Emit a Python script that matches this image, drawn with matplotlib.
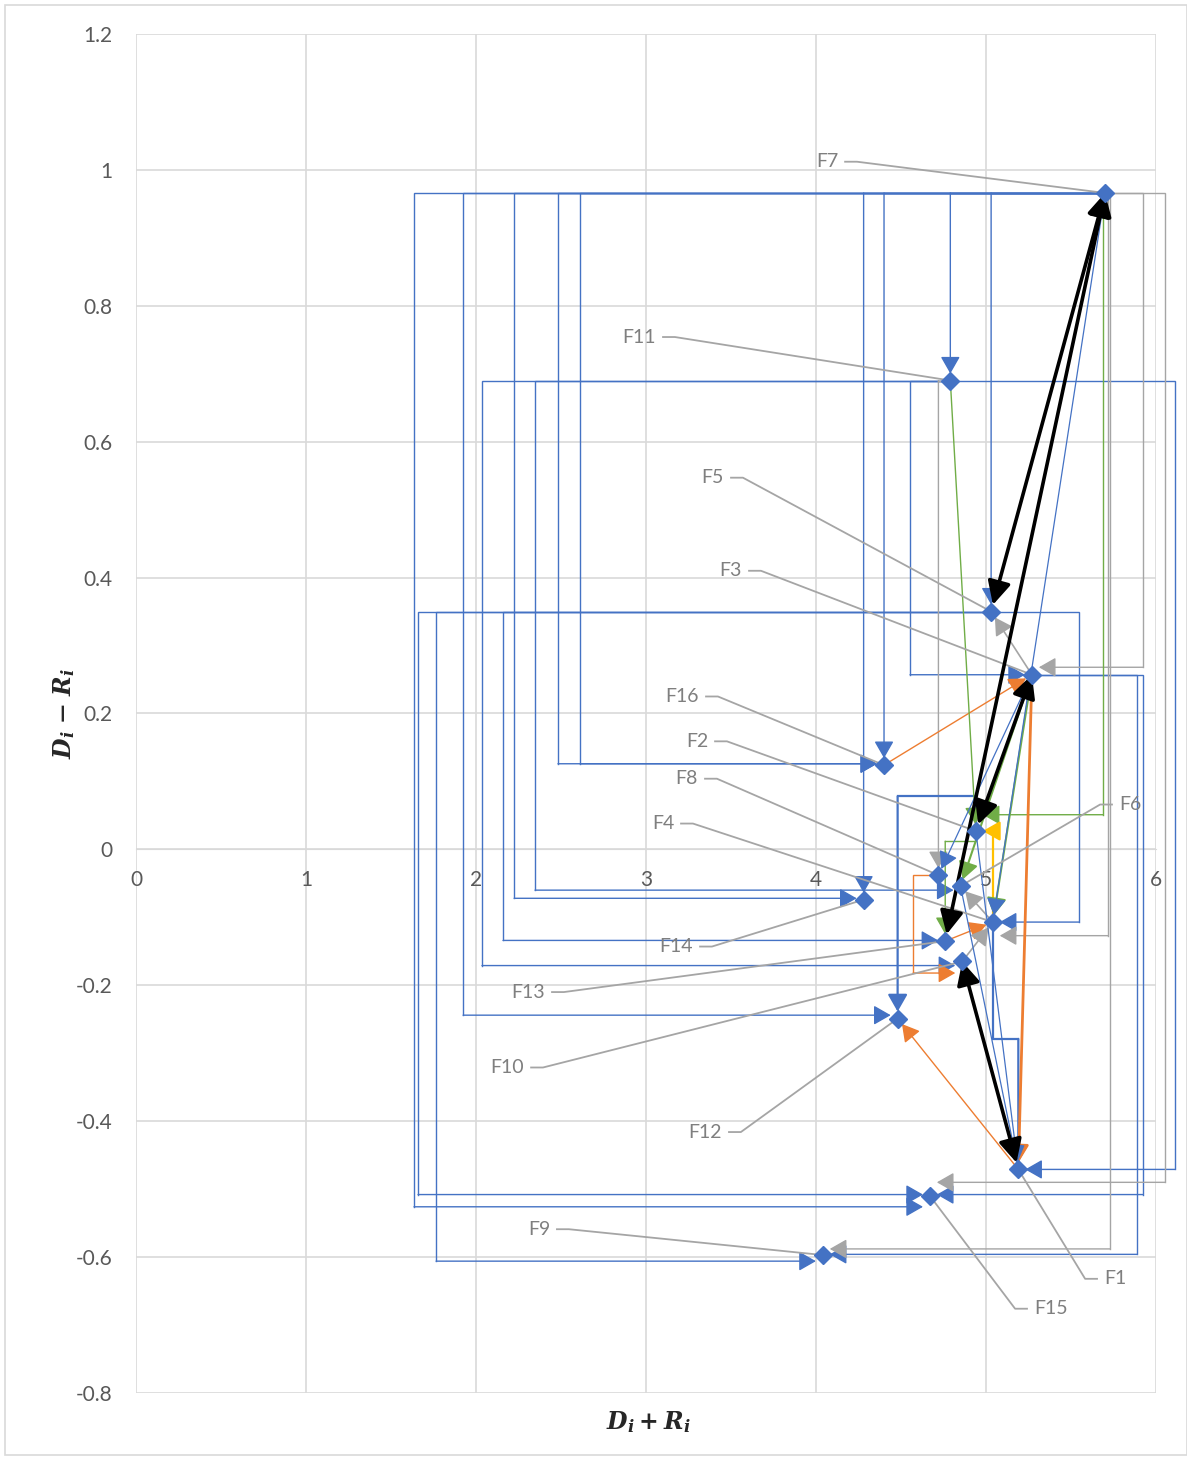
import matplotlib
matplotlib.use('Agg')
import matplotlib.pyplot as plt
from matplotlib.patches import Rectangle

plt.rcParams['font.family'] = ['Lato', 'DejaVu Sans']
plt.rcParams['mathtext.fontset'] = 'custom'
plt.rcParams['mathtext.it'] = 'DejaVu Serif:italic:bold'
plt.rcParams['mathtext.rm'] = 'DejaVu Serif:bold'

BLUE = '#4472C4'
ORANGE = '#ED7D31'
GRAY = '#A5A5A5'
YELLOW = '#FFC000'
GREEN = '#70AD47'

factors = ['F1', 'F2', 'F3', 'F4', 'F5', 'F6', 'F7', 'F8',
           'F9', 'F10', 'F11', 'F12', 'F13', 'F14', 'F15', 'F16']
d_plus_r = [5.19, 4.94, 5.27, 5.04, 5.03, 4.85, 5.70, 4.72,
            4.04, 4.86, 4.79, 4.48, 4.76, 4.28, 4.67, 4.40]
d_minus_r = [-0.471, 0.027, 0.257, -0.107, 0.350, -0.054, 0.966, -0.038,
             -0.597, -0.165, 0.690, -0.249, -0.135, -0.074, -0.510, 0.124]

# where each data label's leader line starts, and on which side the text sits
label_anchor = {
    'F7': (4.171, 1.012, 'left'), 'F11': (3.100, 0.754, 'left'),
    'F5': (3.500, 0.547, 'left'), 'F3': (3.606, 0.410, 'left'),
    'F16': (3.353, 0.225, 'left'), 'F2': (3.406, 0.159, 'left'),
    'F8': (3.347, 0.104, 'left'), 'F4': (3.206, 0.038, 'left'),
    'F14': (3.318, -0.143, 'left'), 'F13': (2.447, -0.210, 'left'),
    'F10': (2.324, -0.321, 'left'), 'F12': (3.488, -0.416, 'left'),
    'F9': (2.476, -0.559, 'left'), 'F6': (5.741, 0.066, 'right'),
    'F1': (5.653, -0.632, 'right'), 'F15': (5.241, -0.676, 'right'),
}

# elbow connectors: (from, to, x of the vertical run, y shift at the target)
blue_elbows = [
    ('F7', 'F15', 1.635, -0.016), ('F7', 'F12', 1.924, 0.005),
    ('F7', 'F14', 2.224, 0.002), ('F7', 'F16', 2.482, 0.002),
    ('F7', 'F16', 2.612, 0.002), ('F11', 'F10', 2.035, -0.006),
    ('F11', 'F6', 2.347, -0.006), ('F5', 'F13', 2.159, 0.001),
    ('F5', 'F15', 1.659, 0.002), ('F5', 'F9', 1.765, -0.009),
    ('F11', 'F3', 4.553, 0.0), ('F11', 'F1', 6.112, 0.0),
    ('F5', 'F4', 5.547, 0.0), ('F3', 'F9', 5.888, 0.001),
    ('F3', 'F15', 5.924, 0.002),
]
gray_elbows = [
    ('F7', 'F3', 5.924, 0.011), ('F7', 'F15', 6.053, 0.020),
    ('F7', 'F9', 5.729, 0.009), ('F7', 'F4', 5.718, -0.020),
]
# out sideways, then straight down onto the target
blue_drops = [('F7', 'F14'), ('F7', 'F16'), ('F7', 'F11'), ('F7', 'F5')]
gray_drops = [('F11', 'F8')]
# down/up, across, down/up again: (from, to, y of the cross run)
blue_steps = [('F2', 'F12', 0.078), ('F4', 'F1', -0.279)]

# straight links: (from, to, colour, width)
black_links = [('F7', 'F5'), ('F7', 'F13'), ('F3', 'F2'), ('F10', 'F1')]
straight_links = [
    ('F16', 'F3', ORANGE, 1.0), ('F1', 'F12', ORANGE, 1.0),
    ('F13', 'F4', ORANGE, 1.0), ('F3', 'F1', ORANGE, 2.0),
    ('F11', 'F2', GREEN, 1.0), ('F3', 'F6', GREEN, 1.5),
    ('F3', 'F4', GREEN, 1.5),
    ('F3', 'F5', GRAY, 1.2), ('F4', 'F6', GRAY, 1.2), ('F10', 'F4', GRAY, 1.2),
    ('F7', 'F4', BLUE, 0.9), ('F6', 'F1', BLUE, 0.9), ('F2', 'F1', BLUE, 0.9),
    ('F3', 'F8', BLUE, 0.9),
]

P = {f: (x, y) for f, x, y in zip(factors, d_plus_r, d_minus_r)}

fig = plt.figure(figsize=(11.87, 14.58), dpi=100)
ax = fig.add_axes([0.1146, 0.0446, 0.8593, 0.9321])
ax.set_xlim(0, 6)
ax.set_ylim(-0.8, 1.2)
ax.set_xticks(range(0, 7))
ax.set_yticks([-0.8, -0.6, -0.4, -0.2, 0, 0.2, 0.4, 0.6, 0.8, 1, 1.2])
ax.set_yticklabels(['-0.8', '-0.6', '-0.4', '-0.2', '0', '0.2', '0.4',
                    '0.6', '0.8', '1', '1.2'])
ax.grid(True, color='#D9D9D9', lw=1.2)
ax.set_axisbelow(True)
for s in ['top', 'right', 'left']:
    ax.spines[s].set_visible(False)
ax.spines['bottom'].set_position(('data', 0))
ax.spines['bottom'].set_color('#D9D9D9')
ax.tick_params(length=0, labelsize=15, labelcolor='#595959')
ax.tick_params(axis='y', pad=17)
ax.tick_params(axis='x', pad=15)

ax.set_xlabel(r'$D_i + R_i$', fontsize=17, color='#262626')
ax.xaxis.set_label_coords(0.502, -0.012)
ax.set_ylabel(r'$D_i\ $—$\ R_i$', fontsize=17, color='#262626',
              fontweight='bold')
ax.yaxis.set_label_coords(-0.058, 0.5)


def draw_path(pts, color, lw, style='-|>', ms=15, hl=0.7, hw=0.4, z=3):
    if len(pts) > 2:
        xs, ys = zip(*pts[:-1])
        ax.plot(xs, ys, color=color, lw=lw, solid_joinstyle='miter',
                zorder=z, clip_on=False)
    ann = ax.annotate('', xy=pts[-1], xytext=pts[-2], zorder=z,
                      annotation_clip=False,
                      arrowprops=dict(arrowstyle=f'{style},head_length={hl},head_width={hw}',
                                      color=color, lw=lw, shrinkA=0, shrinkB=5,
                                      mutation_scale=ms))
    ann.arrow_patch.set_clip_on(False)


for src, dst, bx, off in blue_elbows + gray_elbows:
    color = GRAY if (src, dst, bx, off) in gray_elbows else BLUE
    sx, sy = P[src]
    dx, dy = P[dst]
    draw_path([(sx, sy), (bx, sy), (bx, dy + off), (dx, dy + off)], color, 1.0)

for src, dst in blue_drops + gray_drops:
    color = GRAY if (src, dst) in gray_drops else BLUE
    sx, sy = P[src]
    dx, dy = P[dst]
    draw_path([(sx, sy), (dx, sy), (dx, dy)], color, 1.0)

for src, dst, my in blue_steps:
    sx, sy = P[src]
    dx, dy = P[dst]
    draw_path([(sx, sy), (sx, my), (dx, my), (dx, dy)], BLUE, 1.6)

# green and orange elbows, yellow up-and-across
sx, sy = P['F7']
dx, dy = P['F2']
draw_path([(sx, sy), (5.688, sy), (5.688, dy + 0.024), (dx, dy + 0.024)], GREEN, 1.0)
sx, sy = P['F2']
dx, dy = P['F13']
draw_path([(sx, sy - 0.015), (dx, sy - 0.015), (dx, dy)], GREEN, 1.0)
sx, sy = P['F8']
dx, dy = P['F10']
draw_path([(sx, sy), (4.571, sy), (4.571, dy - 0.017), (dx, dy - 0.017)], ORANGE, 1.0)
sx, sy = P['F4']
dx, dy = P['F2']
draw_path([(sx, sy), (sx, dy), (dx, dy)], YELLOW, 1.6)

for src, dst, color, lw in straight_links:
    draw_path([P[src], P[dst]], color, lw)

for src, dst in black_links:
    draw_path([P[src], P[dst]], 'black', 2.6, style='<|-|>', ms=20,
              hl=0.7, hw=0.35, z=4)

# leader lines and data labels
for f in factors:
    lx, ly, side = label_anchor[f]
    px, py = P[f]
    step = 0.07 if side == 'left' else -0.07
    ax.plot([lx, lx + step, px], [ly, ly, py], color=GRAY, lw=1.3, zorder=3)
    ax.annotate(f, xy=(lx, ly), xytext=(-5 if side == 'left' else 5, 0),
                textcoords='offset points', va='center',
                ha='right' if side == 'left' else 'left',
                fontsize=14, color='#7F7F7F', zorder=6)

ax.plot(d_plus_r, d_minus_r, ls='none', marker='D', ms=9.5,
        color=BLUE, zorder=5)

fig.patches.append(Rectangle((0.0042, 0.002), 0.9958, 0.9945,
                             transform=fig.transFigure, fill=False,
                             edgecolor='#D9D9D9', lw=1.2))

fig.savefig('out.png', dpi=100)
